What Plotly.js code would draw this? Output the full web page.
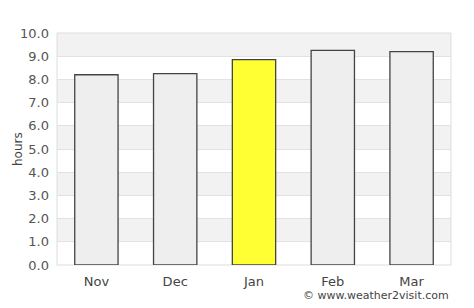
<!DOCTYPE html>
<html>
<head>
<meta charset="utf-8">
<script src="https://cdn.plot.ly/plotly-3.0.1.min.js"></script>
<style>html,body{margin:0;padding:0;background:#fff;}#chart{width:474px;height:308px;}</style>
</head>
<body>
<div id="chart"></div>
<script>
var months = ["Nov", "Dec", "Jan", "Feb", "Mar"];
var hours = [8.2, 8.25, 8.85, 9.25, 9.2];
var barColors = ["#eeeeee", "#eeeeee", "#ffff33", "#eeeeee", "#eeeeee"];
var yTicks = [0, 1, 2, 3, 4, 5, 6, 7, 8, 9, 10];
var yTickLabels = ["0.0", "1.0", "2.0", "3.0", "4.0", "5.0", "6.0", "7.0", "8.0", "9.0", "10.0"];

var shapes = [];
for (var i = 0; i < yTicks.length - 1; i++) {
  if (i % 2 === 1) {
    shapes.push({type: "rect", xref: "paper", yref: "y", x0: 0, x1: 1,
      y0: yTicks[i], y1: yTicks[i + 1], fillcolor: "#f2f2f2", line: {width: 0}, layer: "below"});
  }
}
shapes.push({type: "rect", xref: "paper", yref: "paper", x0: 0, x1: 1, y0: 0, y1: 1,
  line: {color: "#dddddd", width: 1}, layer: "below"});

var trace = {
  type: "bar", x: months, y: hours,
  marker: {color: barColors, line: {color: "#444444", width: 1.3}},
  width: 0.55, hoverinfo: "none"
};

var layout = {
  width: 474, height: 308,
  margin: {l: 57, r: 23, t: 33, b: 43},
  paper_bgcolor: "#ffffff", plot_bgcolor: "#ffffff",
  font: {family: "DejaVu Sans, sans-serif", color: "#444444", size: 13},
  showlegend: false,
  bargap: 0.45,
  shapes: shapes,
  xaxis: {showgrid: false, zeroline: false, showline: false, ticks: "",
    ticklabelstandoff: 7,
    tickfont: {size: 13, color: "#444444"}, fixedrange: true},
  yaxis: {range: [0, 10], tickvals: yTicks, ticktext: yTickLabels,
    showgrid: true, gridcolor: "#e2e2e2", gridwidth: 1, zeroline: false,
    showline: false, ticks: "", ticklabelstandoff: 7,
    tickfont: {size: 13, color: "#555555"}, fixedrange: true},
  annotations: [
    {text: "hours", xref: "paper", yref: "paper", x: 0, y: 0.5, xanchor: "center", yanchor: "middle",
      xshift: -39, textangle: -90, showarrow: false, font: {size: 12, color: "#444444"}},
    {text: "© www.weather2visit.com", xref: "paper", yref: "paper",
    x: 1, y: 0, xanchor: "right", yanchor: "top", yshift: -22, showarrow: false,
    font: {size: 11, color: "#444444"}}]
};

Plotly.newPlot("chart", [trace], layout, {displayModeBar: false, staticPlot: true});
</script>
</body>
</html>
